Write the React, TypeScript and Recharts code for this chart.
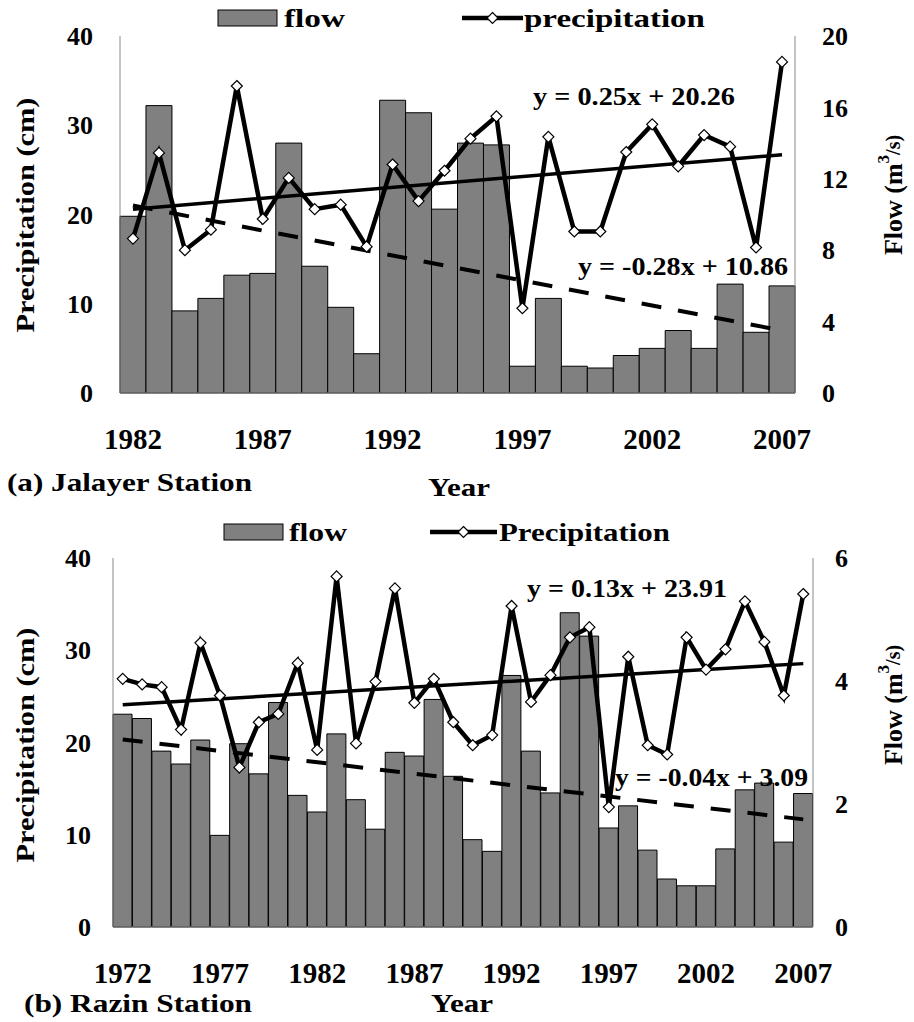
import React from "react";
import { ComposedChart, Bar, Line, XAxis, YAxis } from "recharts";

// (a) Jalayer station, 1982-2007
const jalayerYears = [
  "1982", "1983", "1984", "1985", "1986", "1987", "1988", "1989", "1990",
  "1991", "1992", "1993", "1994", "1995", "1996", "1997", "1998", "1999",
  "2000", "2001", "2002", "2003", "2004", "2005", "2006", "2007",
];
const jalayerFlow = [
  9.9, 16.1, 4.6, 5.3, 6.6, 6.7, 14.0, 7.1, 4.8, 2.2, 16.4, 15.7, 10.3, 14.0,
  13.9, 1.5, 5.3, 1.5, 1.4, 2.1, 2.5, 3.5, 2.5, 6.1, 3.4, 6.0,
];
const jalayerPrecip = [
  17.3, 26.9, 16.0, 18.3, 34.4, 19.5, 24.1, 20.6, 21.1, 16.4, 25.6, 21.5, 24.9,
  28.5, 31.0, 9.5, 28.7, 18.1, 18.1, 27.0, 30.1, 25.4, 28.9, 27.6, 16.3, 37.1,
];
// trend lines: value at first and last year
const jalayerPrecipTrend = [20.6, 26.7];
const jalayerFlowTrend = [10.5, 3.5];

// (b) Razin station, 1972-2007
const razinYears = [
  "1972", "1973", "1974", "1975", "1976", "1977", "1978", "1979", "1980",
  "1981", "1982", "1983", "1984", "1985", "1986", "1987", "1988", "1989",
  "1990", "1991", "1992", "1993", "1994", "1995", "1996", "1997", "1998",
  "1999", "2000", "2001", "2002", "2003", "2004", "2005", "2006", "2007",
];
const razinFlow = [
  3.46, 3.39, 2.86, 2.65, 3.04, 1.49, 2.98, 2.49, 3.65, 2.14, 1.87, 3.14, 2.07,
  1.59, 2.84, 2.78, 3.7, 2.45, 1.42, 1.23, 4.09, 2.86, 2.18, 5.11, 4.73, 1.61,
  1.97, 1.25, 0.78, 0.67, 0.67, 1.27, 2.23, 2.34, 1.38, 2.17,
];
const razinPrecip = [
  26.9, 26.3, 26.0, 21.4, 30.8, 25.1, 17.3, 22.2, 23.1, 28.6, 19.2, 38.0, 19.9,
  26.6, 36.7, 24.3, 26.9, 22.2, 19.7, 20.8, 34.8, 24.4, 27.3, 31.4, 32.5, 13.0,
  29.3, 19.7, 18.7, 31.4, 27.9, 30.1, 35.3, 30.9, 25.1, 36.1,
];
const razinPrecipTrend = [24.1, 28.55];
const razinFlowTrend = [3.05, 1.75];

const precipTicks = [0, 10, 20, 30, 40];
const jalayerFlowTicks = [0, 4, 8, 12, 16, 20];
const razinFlowTicks = [0, 2, 4, 6];

const FONT = "'Liberation Serif', 'Times New Roman', Times, serif";
const FRAME = "#8a8a8a";
const BAR = "#808080";

function buildRows(
  years: string[],
  flow: number[],
  precip: number[],
  pTrend: number[],
  fTrend: number[]
) {
  const last = years.length - 1;
  return years.map((year, i) => ({
    year,
    flow: flow[i],
    precip: precip[i],
    precipTrend: i === 0 ? pTrend[0] : i === last ? pTrend[1] : null,
    flowTrend: i === 0 ? fTrend[0] : i === last ? fTrend[1] : null,
  }));
}

const Diamond = (props: any) => {
  const { cx, cy, index } = props;
  if (cx == null || cy == null) return <g key={`d-${index}`} />;
  const r = 5.5;
  return (
    <path
      key={`d-${index}`}
      d={`M${cx},${cy - r}L${cx + r},${cy}L${cx},${cy + r}L${cx - r},${cy}Z`}
      fill="#fff"
      stroke="#000"
      strokeWidth={1.2}
    />
  );
};

const tickStyle = (size: number) => ({
  fill: "#000",
  fontSize: size,
  fontWeight: "bold" as const,
  style: { fontFamily: FONT },
});

interface PanelProps {
  rows: any[];
  height: number;
  top: number;
  leftW: number;
  rightW: number;
  xH: number;
  flowMax: number;
  flowTicks: number[];
  yMargin: number;
}

function Panel({ rows, height, top, leftW, rightW, xH, flowMax, flowTicks, yMargin }: PanelProps) {
  return (
    <ComposedChart
      width={914}
      height={height}
      data={rows}
      margin={{ top, right: 0, bottom: 0, left: 0 }}
      barCategoryGap={0}
      barGap={0}
    >
      <XAxis
        dataKey="year"
        interval={4}
        tickSize={0}
        tickLine={false}
        tickMargin={35}
        height={xH}
        axisLine={{ stroke: FRAME }}
        tick={tickStyle(29)}
      />
      <XAxis
        xAxisId="top"
        dataKey="year"
        orientation="top"
        height={0}
        tick={false}
        tickLine={false}
        axisLine={{ stroke: FRAME }}
      />
      <YAxis
        yAxisId="left"
        domain={[0, 40]}
        ticks={precipTicks}
        width={leftW}
        tickSize={0}
        tickLine={false}
        tickMargin={yMargin}
        axisLine={{ stroke: FRAME }}
        tick={tickStyle(26)}
      />
      <YAxis
        yAxisId="right"
        orientation="right"
        domain={[0, flowMax]}
        ticks={flowTicks}
        width={rightW}
        tickSize={0}
        tickLine={false}
        tickMargin={yMargin}
        axisLine={{ stroke: FRAME }}
        tick={tickStyle(26)}
      />
      <Bar
        yAxisId="right"
        dataKey="flow"
        fill={BAR}
        stroke="#000"
        strokeWidth={1}
        isAnimationActive={false}
      />
      <Line
        yAxisId="right"
        dataKey="flowTrend"
        connectNulls
        stroke="#000"
        strokeWidth={4}
        strokeDasharray="20 17"
        dot={false}
        activeDot={false}
        isAnimationActive={false}
      />
      <Line
        yAxisId="left"
        dataKey="precipTrend"
        connectNulls
        stroke="#000"
        strokeWidth={3.5}
        dot={false}
        activeDot={false}
        isAnimationActive={false}
      />
      <Line
        yAxisId="left"
        dataKey="precip"
        stroke="#000"
        strokeWidth={4.5}
        dot={<Diamond />}
        activeDot={false}
        isAnimationActive={false}
      />
    </ComposedChart>
  );
}

const txtStyle = { fontFamily: FONT, fontWeight: 700, fill: "#000" };

function T({ x, y, len, size = 26, children }: any) {
  return (
    <text x={x} y={y} fontSize={size} textLength={len} lengthAdjust="spacingAndGlyphs" style={txtStyle}>
      {children}
    </text>
  );
}

function LegendRow({ y, rectX, flowX, flowLen, lineX1, lineX2, precipX, precipLen, label }: any) {
  const mid = (lineX1 + lineX2) / 2;
  const r = 5.5;
  return (
    <g>
      <rect x={rectX} y={y - 8} width={59} height={16} fill={BAR} stroke="#000" strokeWidth={1} />
      <T x={flowX} y={y + 9} len={flowLen}>flow</T>
      <line x1={lineX1} y1={y} x2={lineX2} y2={y} stroke="#000" strokeWidth={4.5} />
      <path
        d={`M${mid},${y - r}L${mid + r},${y}L${mid},${y + r}L${mid - r},${y}Z`}
        fill="#fff"
        stroke="#000"
        strokeWidth={1.2}
      />
      <T x={precipX} y={y + 9} len={precipLen}>{label}</T>
    </g>
  );
}

function SideTitles({ cy, leftCy }: { cy: number; leftCy: number }) {
  return (
    <g>
      <text
        transform={`translate(25,${leftCy}) rotate(-90)`}
        textAnchor="middle"
        dominantBaseline="central"
        fontSize={26}
        textLength={235}
        lengthAdjust="spacingAndGlyphs"
        style={txtStyle}
      >
        Precipitation (cm)
      </text>
      <text
        transform={`translate(893,${cy}) rotate(-90)`}
        textAnchor="middle"
        dominantBaseline="central"
        fontSize={26}
        style={txtStyle}
      >
        Flow (m<tspan fontSize={17} baselineShift="super">3</tspan>
        <tspan fontSize={20}>/s)</tspan>
      </text>
    </g>
  );
}

export default function App() {
  const jalayerRows = buildRows(
    jalayerYears, jalayerFlow, jalayerPrecip, jalayerPrecipTrend, jalayerFlowTrend
  );
  const razinRows = buildRows(
    razinYears, razinFlow, razinPrecip, razinPrecipTrend, razinFlowTrend
  );

  return (
    <div
      style={{
        position: "absolute",
        left: 0,
        top: 0,
        width: 914,
        height: 1022,
        background: "#fff",
        overflow: "hidden",
        fontFamily: FONT,
      }}
    >
      <div style={{ position: "absolute", left: 0, top: 0 }}>
        <Panel
          rows={jalayerRows}
          height={500}
          top={36}
          leftW={120}
          rightW={119}
          xH={107}
          flowMax={20}
          flowTicks={jalayerFlowTicks}
          yMargin={27}
        />
      </div>
      <div style={{ position: "absolute", left: 0, top: 510 }}>
        <Panel
          rows={razinRows}
          height={512}
          top={48}
          leftW={113}
          rightW={101}
          xH={95}
          flowMax={6}
          flowTicks={razinFlowTicks}
          yMargin={22}
        />
      </div>
      <svg
        width={914}
        height={1022}
        style={{ position: "absolute", left: 0, top: 0, pointerEvents: "none" }}
      >
        {/* (a) */}
        <LegendRow
          y={18}
          rectX={218}
          flowX={284}
          flowLen={61}
          lineX1={462}
          lineX2={523}
          precipX={524}
          precipLen={181}
          label="precipitation"
        />
        <SideTitles cy={195} leftCy={215} />
        <T x={533} y={105} len={202}>y = 0.25x + 20.26</T>
        <T x={578} y={275} len={210}>y = -0.28x + 10.86</T>
        <T x={7} y={491} len={245}>(a) Jalayer Station</T>
        <T x={428} y={496} len={62}>Year</T>

        {/* (b) */}
        <LegendRow
          y={532}
          rectX={224}
          flowX={289}
          flowLen={58}
          lineX1={430}
          lineX2={497}
          precipX={499}
          precipLen={171}
          label="Precipitation"
        />
        <SideTitles cy={705} leftCy={745} />
        <T x={527} y={597} len={200}>y = 0.13x + 23.91</T>
        <T x={615} y={786} len={193}>y = -0.04x + 3.09</T>
        <T x={24} y={1012} len={228}>(b) Razin Station</T>
        <T x={431} y={1012} len={62}>Year</T>
      </svg>
    </div>
  );
}
